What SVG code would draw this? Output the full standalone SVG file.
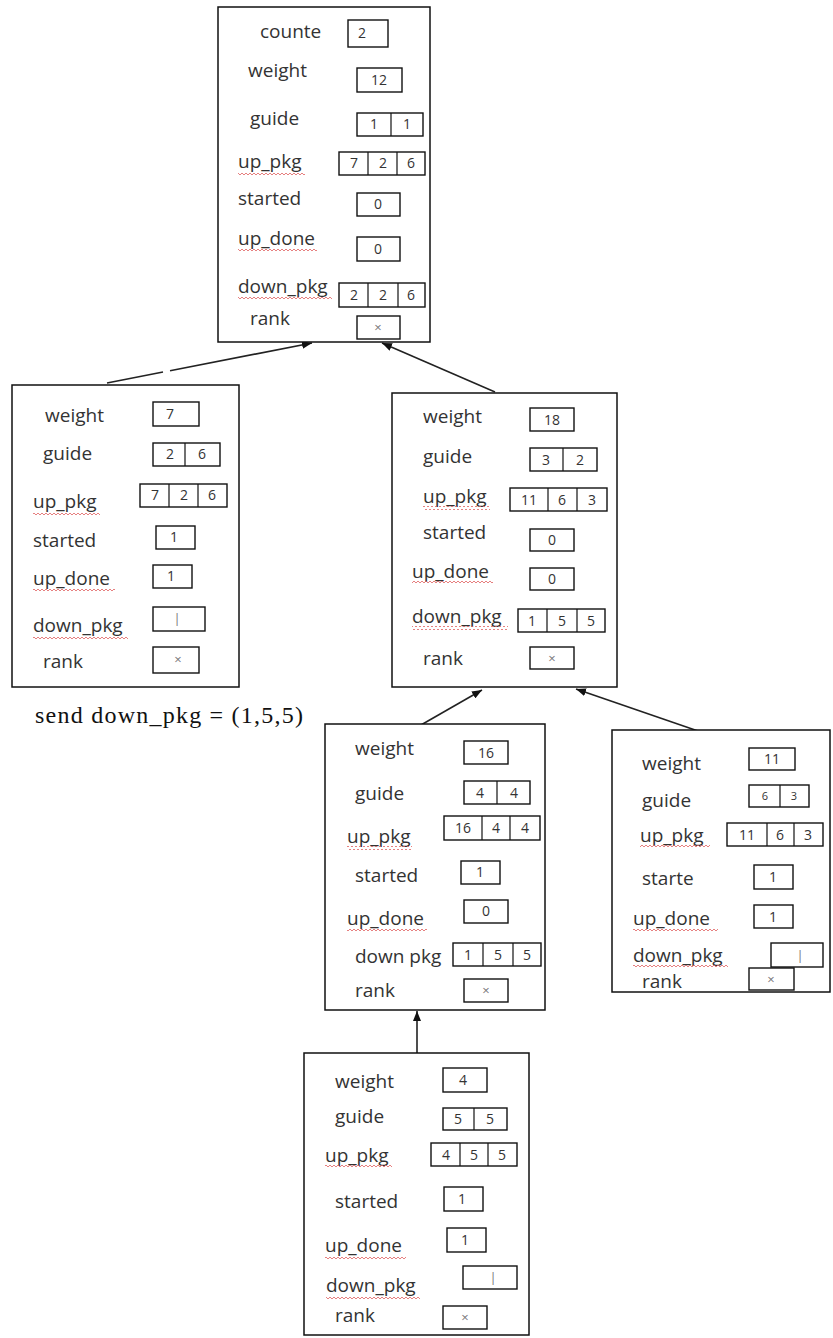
<svg xmlns="http://www.w3.org/2000/svg" width="833" height="1338" viewBox="0 0 833 1338">
<style>
.frame{fill:#fff;stroke:#111;stroke-width:1.5}
.cell{fill:#fff;stroke:#111;stroke-width:1.4}
.div{stroke:#111;stroke-width:1.2}
.lbl{font-family:"Open Sans",sans-serif;font-size:19px;fill:#333}
.val{font-family:"Open Sans",sans-serif;font-size:14px;fill:#333;text-anchor:middle}
.mark{font-family:"Open Sans",sans-serif;font-size:13px;fill:#777;text-anchor:middle}
.sq{fill:url(#wave)}
.conn{stroke:#222;stroke-width:1.6;fill:none}
.note{font-family:"Liberation Serif",serif;font-size:24px;fill:#111}
</style>
<defs>
<pattern id="wave" patternUnits="userSpaceOnUse" width="4" height="4">
<path d="M0 3 L2 1 L4 3" fill="none" stroke="#e06060" stroke-width="0.8"/>
</pattern>
<marker id="arr" markerUnits="userSpaceOnUse" markerWidth="10" markerHeight="8" refX="10" refY="4" orient="auto">
<path d="M0 0 L10 4 L0 8 z" fill="#111"/>
</marker>
</defs>
<rect width="833" height="1338" fill="#fff"/>

<g id="connectors">
<line class="conn" x1="107" y1="383" x2="163" y2="372"/>
<line class="conn" x1="170" y1="370.7" x2="312" y2="343" marker-end="url(#arr)"/>
<line class="conn" x1="495" y1="392" x2="382" y2="343" marker-end="url(#arr)"/>
<line class="conn" x1="407" y1="733" x2="482" y2="690" marker-end="url(#arr)"/>
<line class="conn" x1="698" y1="731" x2="576" y2="689" marker-end="url(#arr)"/>
<line class="conn" x1="417" y1="1053" x2="417" y2="1011" marker-end="url(#arr)"/>
</g>

<g id="node-root">
<rect class="frame" x="218" y="7" width="212" height="335"/>
<text class="lbl" x="260" y="38">counte</text>
<rect class="cell" x="348" y="20" width="40" height="27"/><text class="val" x="362" y="38">2</text>
<text class="lbl" x="248" y="77">weight</text>
<rect class="cell" x="357" y="68" width="45" height="24"/><text class="val" x="379" y="85">12</text>
<text class="lbl" x="250" y="125">guide</text>
<rect class="cell" x="357" y="113" width="66" height="23"/><line class="div" x1="391" y1="113" x2="391" y2="136"/>
<text class="val" x="374" y="129">1</text><text class="val" x="407" y="129">1</text>
<text class="lbl" x="238" y="168">up_pkg</text><rect class="sq" x="238" y="171" width="67" height="4"/>
<rect class="cell" x="339" y="152" width="86" height="23"/><line class="div" x1="368" y1="152" x2="368" y2="175"/><line class="div" x1="397" y1="152" x2="397" y2="175"/>
<text class="val" x="354" y="168">7</text><text class="val" x="383" y="168">2</text><text class="val" x="411" y="168">6</text>
<text class="lbl" x="238" y="205">started</text>
<rect class="cell" x="357" y="193" width="43" height="23"/><text class="val" x="378" y="209">0</text>
<text class="lbl" x="238" y="245">up_done</text><rect class="sq" x="238" y="248" width="79" height="4"/>
<rect class="cell" x="357" y="237" width="43" height="24"/><text class="val" x="378" y="254">0</text>
<text class="lbl" x="238" y="293">down_pkg</text><rect class="sq" x="238" y="296" width="94" height="4"/>
<rect class="cell" x="339" y="283" width="86" height="24"/><line class="div" x1="368" y1="283" x2="368" y2="307"/><line class="div" x1="398" y1="283" x2="398" y2="307"/>
<text class="val" x="354" y="300">2</text><text class="val" x="383" y="300">2</text><text class="val" x="411" y="300">6</text>
<text class="lbl" x="250" y="325">rank</text>
<rect class="cell" x="357" y="316" width="43" height="23"/><text class="mark" x="378" y="332">×</text>
</g>

<g id="node-left">
<rect class="frame" x="12" y="385" width="227" height="302"/>
<text class="lbl" x="45" y="422">weight</text>
<rect class="cell" x="153" y="402" width="46" height="24"/><text class="val" x="170" y="419">7</text>
<text class="lbl" x="43" y="460">guide</text>
<rect class="cell" x="153" y="443" width="67" height="23"/><line class="div" x1="185" y1="443" x2="185" y2="466"/>
<text class="val" x="170" y="459">2</text><text class="val" x="202" y="459">6</text>
<text class="lbl" x="33" y="508">up_pkg</text><rect class="sq" x="33" y="511" width="67" height="4"/>
<rect class="cell" x="140" y="484" width="87" height="23"/><line class="div" x1="169" y1="484" x2="169" y2="507"/><line class="div" x1="198" y1="484" x2="198" y2="507"/>
<text class="val" x="155" y="500">7</text><text class="val" x="184" y="500">2</text><text class="val" x="212" y="500">6</text>
<text class="lbl" x="33" y="547">started</text>
<rect class="cell" x="156" y="526" width="39" height="23"/><text class="val" x="174" y="542">1</text>
<text class="lbl" x="33" y="585">up_done</text><rect class="sq" x="33" y="588" width="82" height="4"/>
<rect class="cell" x="153" y="565" width="39" height="23"/><text class="val" x="171" y="581">1</text>
<text class="lbl" x="33" y="632">down_pkg</text><rect class="sq" x="33" y="635" width="95" height="4"/>
<rect class="cell" x="153" y="607" width="52" height="24"/><text class="mark" x="177" y="623">|</text>
<text class="lbl" x="43" y="668">rank</text>
<rect class="cell" x="153" y="647" width="46" height="26"/><text class="mark" x="178" y="664">×</text>
</g>

<text class="note" x="35" y="723" textLength="268" lengthAdjust="spacing">send down_pkg = (1,5,5)</text>

<g id="node-right">
<rect class="frame" x="392" y="393" width="225" height="294"/>
<text class="lbl" x="423" y="423">weight</text>
<rect class="cell" x="530" y="408" width="44" height="23"/><text class="val" x="552" y="425">18</text>
<text class="lbl" x="423" y="463">guide</text>
<rect class="cell" x="530" y="448" width="67" height="23"/><line class="div" x1="563" y1="448" x2="563" y2="471"/>
<text class="val" x="546" y="465">3</text><text class="val" x="580" y="465">2</text>
<text class="lbl" x="423" y="503">up_pkg</text><rect class="sq" x="423" y="506" width="67" height="4"/>
<rect class="cell" x="510" y="488" width="97" height="23"/><line class="div" x1="548" y1="488" x2="548" y2="511"/><line class="div" x1="577" y1="488" x2="577" y2="511"/>
<text class="val" x="529" y="505">11</text><text class="val" x="562" y="505">6</text><text class="val" x="592" y="505">3</text>
<text class="lbl" x="423" y="539">started</text>
<rect class="cell" x="530" y="529" width="44" height="22"/><text class="val" x="552" y="545">0</text>
<text class="lbl" x="412" y="578">up_done</text><rect class="sq" x="412" y="581" width="81" height="4"/>
<rect class="cell" x="530" y="568" width="44" height="22"/><text class="val" x="552" y="584">0</text>
<text class="lbl" x="412" y="623">down_pkg</text><rect class="sq" x="412" y="626" width="96" height="4"/>
<rect class="cell" x="518" y="609" width="87" height="23"/><line class="div" x1="547" y1="609" x2="547" y2="632"/><line class="div" x1="577" y1="609" x2="577" y2="632"/>
<text class="val" x="532" y="626">1</text><text class="val" x="562" y="626">5</text><text class="val" x="591" y="626">5</text>
<text class="lbl" x="423" y="665">rank</text>
<rect class="cell" x="530" y="647" width="44" height="22"/><text class="mark" x="552" y="663">×</text>
</g>

<g id="node-mid">
<rect class="frame" x="325" y="724" width="220" height="286"/>
<text class="lbl" x="355" y="755">weight</text>
<rect class="cell" x="464" y="741" width="44" height="23"/><text class="val" x="486" y="758">16</text>
<text class="lbl" x="355" y="800">guide</text>
<rect class="cell" x="464" y="781" width="66" height="23"/><line class="div" x1="497" y1="781" x2="497" y2="804"/>
<text class="val" x="480" y="798">4</text><text class="val" x="514" y="798">4</text>
<text class="lbl" x="347" y="843">up_pkg</text><rect class="sq" x="347" y="846" width="65" height="4"/>
<rect class="cell" x="444" y="816" width="96" height="24"/><line class="div" x1="482" y1="816" x2="482" y2="840"/><line class="div" x1="510" y1="816" x2="510" y2="840"/>
<text class="val" x="463" y="833">16</text><text class="val" x="496" y="833">4</text><text class="val" x="525" y="833">4</text>
<text class="lbl" x="355" y="882">started</text>
<rect class="cell" x="461" y="861" width="39" height="23"/><text class="val" x="480" y="877">1</text>
<text class="lbl" x="347" y="925">up_done</text><rect class="sq" x="347" y="928" width="80" height="4"/>
<rect class="cell" x="464" y="900" width="44" height="23"/><text class="val" x="486" y="916">0</text>
<text class="lbl" x="355" y="963">down pkg</text>
<rect class="cell" x="453" y="943" width="88" height="23"/><line class="div" x1="483" y1="943" x2="483" y2="966"/><line class="div" x1="513" y1="943" x2="513" y2="966"/>
<text class="val" x="468" y="960">1</text><text class="val" x="498" y="960">5</text><text class="val" x="527" y="960">5</text>
<text class="lbl" x="355" y="997">rank</text>
<rect class="cell" x="464" y="979" width="44" height="23"/><text class="mark" x="486" y="995">×</text>
</g>

<g id="node-farright">
<rect class="frame" x="612" y="730" width="218" height="262"/>
<text class="lbl" x="642" y="770">weight</text>
<rect class="cell" x="749" y="748" width="46" height="22"/><text class="val" x="772" y="764">11</text>
<text class="lbl" x="642" y="807">guide</text>
<rect class="cell" x="749" y="785" width="60" height="22"/><line class="div" x1="780" y1="785" x2="780" y2="807"/>
<text class="val" x="765" y="800" style="font-size:11px">6</text><text class="val" x="794" y="800" style="font-size:11px">3</text>
<text class="lbl" x="640" y="842">up_pkg</text><rect class="sq" x="640" y="845" width="70" height="4"/>
<rect class="cell" x="727" y="823" width="96" height="23"/><line class="div" x1="767" y1="823" x2="767" y2="846"/><line class="div" x1="794" y1="823" x2="794" y2="846"/>
<text class="val" x="747" y="840">11</text><text class="val" x="780" y="840">6</text><text class="val" x="808" y="840">3</text>
<text class="lbl" x="642" y="885">starte</text>
<rect class="cell" x="754" y="865" width="39" height="24"/><text class="val" x="773" y="882">1</text>
<text class="lbl" x="633" y="925">up_done</text><rect class="sq" x="633" y="928" width="85" height="4"/>
<rect class="cell" x="754" y="905" width="39" height="23"/><text class="val" x="773" y="922">1</text>
<text class="lbl" x="633" y="962">down_pkg</text><rect class="sq" x="633" y="965" width="95" height="4"/>
<rect class="cell" x="771" y="943" width="52" height="24"/><text class="mark" x="800" y="960">|</text>
<text class="lbl" x="642" y="988">rank</text>
<rect class="cell" x="749" y="968" width="45" height="22"/><text class="mark" x="771" y="984">×</text>
</g>

<g id="node-bottom">
<rect class="frame" x="304" y="1053" width="225" height="282"/>
<text class="lbl" x="335" y="1088">weight</text>
<rect class="cell" x="443" y="1068" width="44" height="24"/><text class="val" x="463" y="1085">4</text>
<text class="lbl" x="335" y="1123">guide</text>
<rect class="cell" x="443" y="1108" width="64" height="22"/><line class="div" x1="474" y1="1108" x2="474" y2="1130"/>
<text class="val" x="458" y="1124">5</text><text class="val" x="490" y="1124">5</text>
<text class="lbl" x="325" y="1162">up_pkg</text><rect class="sq" x="325" y="1165" width="67" height="4"/>
<rect class="cell" x="431" y="1143" width="86" height="23"/><line class="div" x1="460" y1="1143" x2="460" y2="1166"/><line class="div" x1="488" y1="1143" x2="488" y2="1166"/>
<text class="val" x="446" y="1160">4</text><text class="val" x="474" y="1160">5</text><text class="val" x="502" y="1160">5</text>
<text class="lbl" x="335" y="1208">started</text>
<rect class="cell" x="444" y="1187" width="39" height="24"/><text class="val" x="462" y="1204">1</text>
<text class="lbl" x="325" y="1252">up_done</text><rect class="sq" x="325" y="1255" width="81" height="4"/>
<rect class="cell" x="447" y="1228" width="39" height="24"/><text class="val" x="465" y="1245">1</text>
<text class="lbl" x="326" y="1292">down_pkg</text><rect class="sq" x="326" y="1295" width="94" height="4"/>
<rect class="cell" x="463" y="1266" width="54" height="23"/><text class="mark" x="493" y="1282">|</text>
<text class="lbl" x="335" y="1322">rank</text>
<rect class="cell" x="443" y="1306" width="44" height="23"/><text class="mark" x="465" y="1322">×</text>
</g>
</svg>
